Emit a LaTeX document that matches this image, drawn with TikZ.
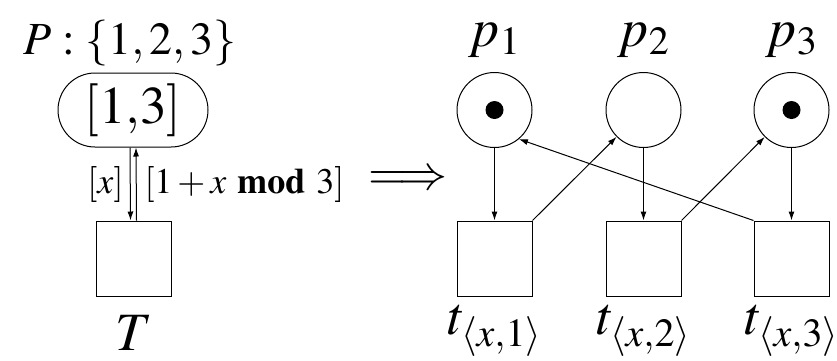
\documentclass[tikz,border=0pt]{standalone}
\usepackage{mathptmx}
\usepackage{tikz}
\usetikzlibrary{arrows.meta,shapes.misc}

\begin{document}
\begin{tikzpicture}[
  x=1pt, y=-1pt,
  line width=1pt,
  place/.style={draw, circle, minimum size=75pt, inner sep=0pt},
  trans/.style={draw, rectangle, minimum size=75pt, inner sep=0pt},
  pool/.style={draw, rounded rectangle, minimum width=150pt, minimum height=74pt,
    inner sep=0pt, font=\fontsize{53}{60}\selectfont},
  arc/.style={-{Latex[length=9pt,width=6pt]}},
  big/.style={font=\fontsize{46}{52}\selectfont, inner sep=0pt},
  arclbl/.style={font=\fontsize{36}{42}\selectfont, inner sep=0pt}
]
\useasboundingbox (0,0) rectangle (837,360);

% --- colored net ---
\node[big] (Plbl) at (130,43) {$P:\{1,2,3\}$};
\node[pool] (pool) at (133,110) {$[1{,}3]$};
\node[trans] (T) at (133.5,258.5) {};
\node[big, font=\fontsize{54}{60}\selectfont] (Tlbl) at (133.5,333) {$T$};

\draw[arc] ([xshift=-3pt]pool.south) -- ([xshift=-3pt]T.north);
\draw[arc] ([xshift=3pt]T.north) -- ([xshift=3pt]pool.south);
\node[arclbl, anchor=east] (inlbl) at (124,184) {$[x]$};
\node[arclbl, anchor=west] (outlbl) at (144,184) {$[1+x\ \mathbf{mod}\ 3]$};

\node[big, font=\fontsize{49}{52}\selectfont] (unfold) at (408,181) {$\Longrightarrow$};

% --- unfolded net ---
\foreach \x [count=\i] in {494.5,643.5,791.5} {
  \node[place] (p\i) at (\x,110) {};
  \node[trans] (t\i) at (\x,258.5) {};
  \node[big, font=\fontsize{54}{60}\selectfont] (pl\i) at (\x,40) {$p_{\i}$};
  \node[big, font=\fontsize{54}{60}\selectfont] (tl\i) at (\x,331)
    {$t_{\lower4pt\hbox{$\scriptstyle\langle x,\i\rangle$}}$};
  \draw[arc] (p\i) -- (t\i);
}
\fill (p1) circle (9);
\fill (p3) circle (9);

\draw[arc] (t1.north east) -- (p2);
\draw[arc] (t2.north east) -- (p3);
\draw[arc] (t3.north west) -- (p1.-50);
\end{tikzpicture}
\end{document}
